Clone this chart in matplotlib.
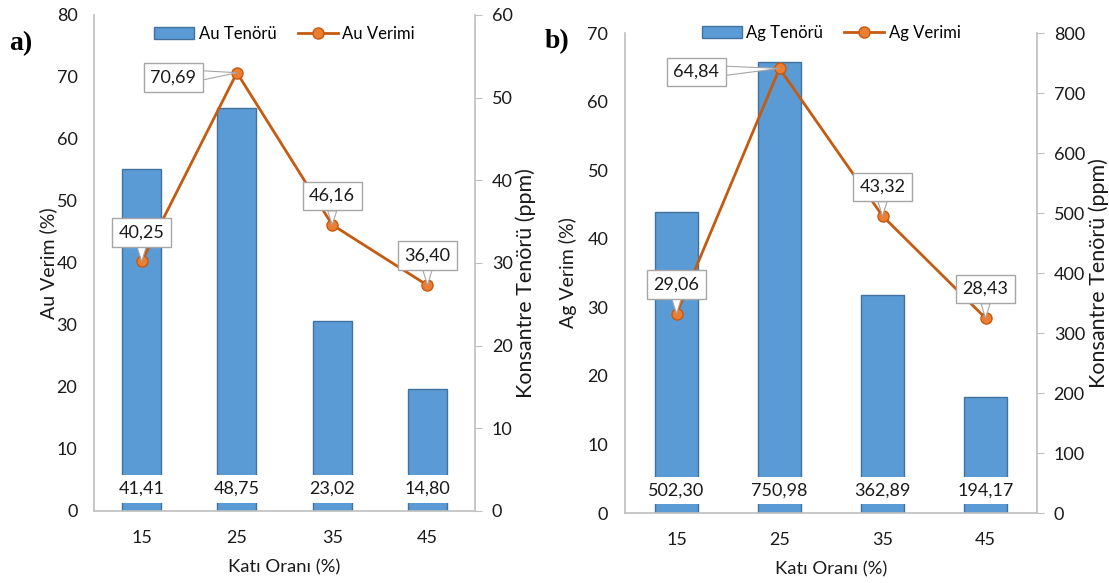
import matplotlib
matplotlib.use('Agg')
import matplotlib.pyplot as plt
from matplotlib.patches import Patch
from matplotlib.lines import Line2D

plt.rcParams['font.family'] = ['Lato', 'DejaVu Sans']

categories = ['15', '25', '35', '45']
au_tenor = [41.41, 48.75, 23.02, 14.80]
au_verim = [40.25, 70.69, 46.16, 36.40]
ag_tenor = [502.30, 750.98, 362.89, 194.17]
ag_verim = [29.06, 64.84, 43.32, 28.43]

BAR = '#5B9BD5'
BAR_EDGE = '#41719C'
LINE = '#C55A11'
MK = '#ED7D31'
SPINE = '#BFBFBF'
TXT = '#1a1a1a'


def fmt(v):
    return f"{v:.2f}".replace('.', ',')


fig = plt.figure(figsize=(11.09, 5.83), dpi=100)


def panel(rect, tenor, verim, yl, ylt, yr, yrt, metal, offsets, legend_y,
          barlabel_y, ylab_l, ylab_r):
    ax = fig.add_axes(rect)
    ax2 = ax.twinx()
    ax.set_zorder(ax2.get_zorder() + 1)
    ax.patch.set_visible(False)
    x = list(range(len(categories)))

    ax2.bar(x, tenor, width=0.41, color=BAR, edgecolor=BAR_EDGE, linewidth=1, zorder=2)
    for i, v in enumerate(tenor):
        ax2.text(i, barlabel_y, fmt(v), transform=ax2.get_xaxis_transform(),
                 ha='center', va='center', fontsize=13, color=TXT, zorder=3,
                 bbox=dict(boxstyle='square,pad=0.33', fc='white', ec='none'))

    ax.plot(x, verim, color=LINE, lw=2, marker='o', ms=8, mfc=MK, mec=LINE, zorder=3)
    for i, v in enumerate(verim):
        dx, dy = offsets[i]
        ax.annotate(fmt(v), xy=(i, v), xytext=(dx, dy), textcoords='offset points',
                    ha='center', va='center', fontsize=13, color=TXT, zorder=5,
                    bbox=dict(boxstyle='square,pad=0.35', fc='white', ec='#A6A6A6', lw=1),
                    arrowprops=dict(arrowstyle='wedge,tail_width=0.5', fc='white',
                                    ec='#A6A6A6', lw=0.8, shrinkA=0, shrinkB=0))

    ax.set_xlim(-0.5, len(categories) - 0.5)
    ax.set_xticks(x)
    ax.set_xticklabels(categories)
    ax.set_ylim(*yl)
    ax.set_yticks(ylt)
    ax2.set_ylim(*yr)
    ax2.set_yticks(yrt)

    ax.tick_params(axis='x', length=0, pad=14, labelsize=13, labelcolor=TXT)
    ax.tick_params(axis='y', length=0, pad=12, labelsize=13, labelcolor=TXT)
    ax2.tick_params(axis='y', length=5, color=SPINE, direction='out', pad=7,
                    labelsize=13, labelcolor=TXT)

    for s in ['top', 'right']:
        ax.spines[s].set_visible(False)
    for s in ['left', 'bottom']:
        ax.spines[s].set_color(SPINE)
        ax.spines[s].set_linewidth(1.2)
    for s in ['top', 'left', 'bottom']:
        ax2.spines[s].set_visible(False)
    ax2.spines['right'].set_color(SPINE)
    ax2.spines['right'].set_linewidth(1.2)

    ax.set_xlabel('Katı Oranı (%)', fontsize=13.3, color=TXT, labelpad=9)
    ax.set_ylabel(f'{metal} Verim (%)', fontsize=14, color=TXT)
    ax2.set_ylabel('Konsantre Tenörü (ppm)', fontsize=15.5, color=TXT)
    ax.yaxis.set_label_coords(*ylab_l)
    ax2.yaxis.set_label_coords(*ylab_r)

    handles = [Patch(facecolor=BAR, edgecolor=BAR_EDGE, label=f'{metal} Tenörü'),
               Line2D([], [], color=LINE, lw=2, marker='o', ms=8, mfc=MK, mec=LINE,
                      label=f'{metal} Verimi')]
    ax.legend(handles=handles, loc='center', bbox_to_anchor=(0.5, legend_y), ncol=2,
              frameon=False, fontsize=12, handlelength=2.4, handletextpad=0.25,
              columnspacing=1.3, borderaxespad=0)
    return ax, ax2


panel([0.0848, 0.1235, 0.3436, 0.8508], au_tenor, au_verim,
      (0, 80), range(0, 81, 10), (0, 60), range(0, 61, 10), 'Au',
      [(0, 21), (-45.8, -3.5), (0, 20.7), (0, 21.5)], 0.962, 0.045,
      (-0.097, 0.5), (1.105, 0.46))

panel([0.5636, 0.120, 0.3715, 0.8233], ag_tenor, ag_verim,
      (0, 70), range(0, 71, 10), (0, 800), range(0, 801, 100), 'Ag',
      [(0, 21), (-59.8, -2.6), (0, 21), (0, 21)], 1.0, 0.047,
      (-0.117, 0.5), (1.124, 0.5))

fig.text(0.019, 0.926, 'a)', fontsize=20, fontweight='bold', family='Liberation Serif',
         ha='center', va='center', color='black')
fig.text(0.502, 0.928, 'b)', fontsize=20, fontweight='bold', family='Liberation Serif',
         ha='center', va='center', color='black')

fig.savefig('out.png', dpi=100)
